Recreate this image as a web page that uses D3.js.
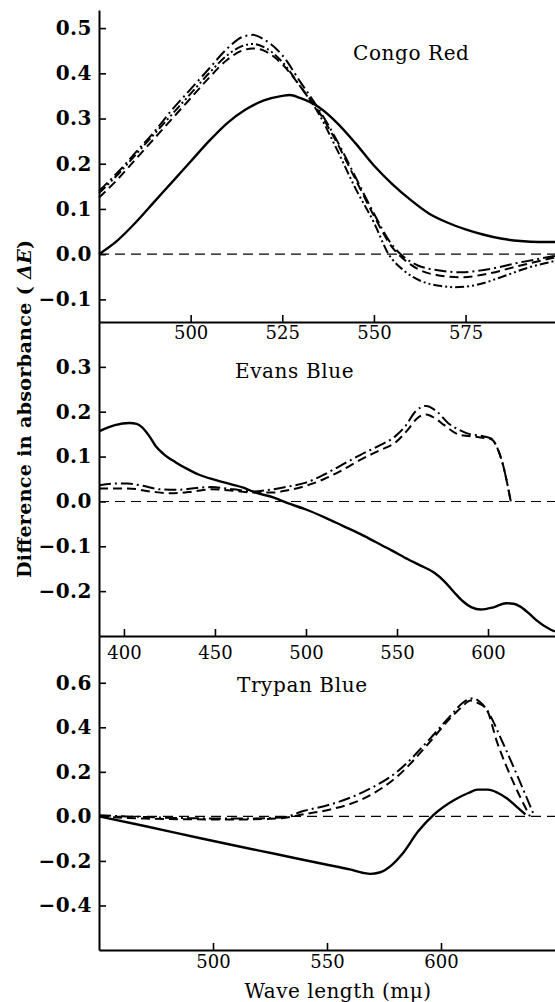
<!DOCTYPE html>
<html>
<head>
<meta charset="utf-8">
<script src="https://cdn.jsdelivr.net/npm/d3@7"></script>
<style>
  body { margin: 0; background: #fff; }
  svg { display: block; }
  .tick line { stroke: #000; stroke-width: 1.6; }
  .domain { stroke: #000; stroke-width: 2; }
</style>
</head>
<body>
<svg id="chart" width="555" height="1002"></svg>
<script>
// Congo Red: [wave length, delta E]
var congoSolid = [[475,0.0],[480,0.03],[485,0.07],[490,0.115],[495,0.16],[500,0.205],[505,0.25],[510,0.29],[515,0.32],[520,0.34],[525,0.35],[527,0.352],[530,0.345],[535,0.325],[540,0.29],[545,0.245],[550,0.196],[555,0.155],[560,0.12],[565,0.09],[570,0.07],[575,0.055],[580,0.043],[585,0.034],[590,0.029],[595,0.027],[599.4,0.027]];
var congoDashDot = [[475,0.14],[480,0.18],[485,0.225],[490,0.27],[495,0.32],[500,0.365],[505,0.41],[510,0.455],[514,0.48],[517,0.485],[520,0.475],[525,0.44],[530,0.38],[535,0.32],[540,0.25],[545,0.17],[550,0.09],[555,0.02],[558,-0.005],[562,-0.025],[567,-0.035],[574,-0.04],[580,-0.035],[590,-0.018],[599.4,-0.004]];
var congoDashDotDot = [[475,0.135],[480,0.175],[485,0.22],[490,0.265],[495,0.31],[500,0.355],[505,0.4],[510,0.44],[514,0.46],[517,0.465],[520,0.458],[525,0.425],[530,0.37],[535,0.31],[540,0.23],[545,0.145],[550,0.07],[554,0.0],[558,-0.035],[563,-0.06],[568,-0.07],[572,-0.073],[578,-0.068],[585,-0.05],[592,-0.03],[599.4,-0.015]];
var congoDashed = [[475,0.125],[480,0.165],[485,0.21],[490,0.255],[495,0.3],[500,0.345],[505,0.39],[510,0.43],[514,0.45],[517,0.455],[520,0.45],[525,0.42],[530,0.37],[535,0.315],[540,0.245],[545,0.165],[550,0.085],[555,0.015],[558,-0.01],[562,-0.033],[567,-0.046],[574,-0.051],[580,-0.045],[590,-0.025],[599.4,-0.007]];

// Evans Blue
var evansSolid = [[386.3,0.156],[395,0.17],[403,0.175],[407,0.173],[410,0.165],[414,0.145],[417.5,0.123],[422,0.105],[428.5,0.087],[435,0.072],[441,0.06],[450,0.048],[459,0.038],[466,0.03],[472,0.02],[482,0.009],[490,-0.004],[500,-0.018],[510.5,-0.036],[520,-0.054],[530,-0.073],[538,-0.09],[547,-0.109],[556,-0.129],[563,-0.143],[570.5,-0.159],[576,-0.178],[581.5,-0.203],[586,-0.222],[591,-0.236],[596,-0.241],[603,-0.236],[610,-0.227],[614,-0.228],[617.5,-0.234],[622,-0.248],[626,-0.263],[634,-0.285],[636.8,-0.29]];
var evansDashDot = [[386.3,0.036],[395,0.04],[402,0.04],[410,0.035],[420,0.027],[430,0.026],[440,0.03],[448,0.032],[460,0.027],[471,0.022],[480,0.026],[490,0.033],[500,0.042],[510,0.06],[520,0.082],[530,0.104],[540,0.124],[549,0.145],[555,0.17],[560,0.2],[566,0.213],[572,0.2],[578,0.175],[584,0.16],[590,0.15],[595,0.147],[602,0.14],[605,0.12],[608,0.085],[612.5,0.0]];
var evansDashed = [[386.3,0.029],[402,0.029],[415,0.022],[426,0.018],[438,0.022],[448,0.027],[460,0.024],[471,0.02],[482,0.02],[490,0.025],[500,0.035],[510,0.05],[520,0.07],[530,0.093],[540,0.113],[549,0.131],[556,0.16],[561,0.185],[566,0.194],[571,0.185],[576,0.17],[584,0.149],[595,0.143],[602,0.138],[605,0.12],[608,0.085],[612.5,0.0]];

// Trypan Blue
var trypanSolid = [[450,0.0],[470,-0.043],[494,-0.097],[510,-0.132],[527,-0.168],[549,-0.215],[560,-0.238],[566,-0.254],[569,-0.258],[573,-0.252],[578,-0.222],[583,-0.169],[590,-0.067],[597,0.009],[606,0.075],[612,0.105],[616,0.12],[620.6,0.12],[625,0.105],[629,0.08],[633,0.045],[637,0.009]];
var trypanDashDot = [[450,0.005],[470,-0.003],[490,-0.008],[510,-0.01],[530,-0.005],[540,0.025],[551,0.052],[566,0.11],[580.7,0.2],[595,0.347],[604,0.45],[609.6,0.51],[614,0.53],[617,0.515],[620,0.48],[627,0.333],[634.6,0.156],[641,0.0]];
var trypanDashed = [[450,0.0],[470,-0.01],[490,-0.013],[510,-0.014],[530,-0.008],[540,0.01],[551,0.03],[566,0.08],[580.7,0.178],[595,0.333],[604,0.44],[609,0.49],[613,0.52],[616,0.51],[620,0.48],[624.6,0.333],[631.6,0.156],[639,0.0]];

var congoXTicks = [500, 525, 550, 575];
var congoYTicks = [-0.1, 0.0, 0.1, 0.2, 0.3, 0.4, 0.5];
var evansXTicks = [400, 450, 500, 550, 600];
var evansYTicks = [-0.2, -0.1, 0.0, 0.1, 0.2, 0.3];
var trypanXTicks = [500, 550, 600];
var trypanYTicks = [-0.4, -0.2, 0.0, 0.2, 0.4, 0.6];

var styles = {
  solid: { dash: null, width: 2.4 },
  dashed: { dash: '9,5', width: 2 },
  dashDot: { dash: '12,4,2,4', width: 2 },
  dashDotDot: { dash: '9,3,2,3,2,3', width: 2 }
};

var panels = [
  { title: 'Congo Red', titleX: 353, titleY: 60, xDomain: [475, 599.4], yDomain: [-0.15, 0.54],
    top: 10, bottom: 322, xTicks: congoXTicks, yTicks: congoYTicks, xPad: 4,
    series: [['solid', congoSolid], ['dashed', congoDashed], ['dashDotDot', congoDashDotDot], ['dashDot', congoDashDot]] },
  { title: 'Evans Blue', titleX: 235, titleY: 378, xDomain: [386.3, 636.8], yDomain: [-0.3, 0.4],
    top: 322, bottom: 636, xTicks: evansXTicks, yTicks: evansYTicks, xPad: 10,
    series: [['solid', evansSolid], ['dashed', evansDashed], ['dashDot', evansDashDot]] },
  { title: 'Trypan Blue', titleX: 237, titleY: 692, xDomain: [450, 650], yDomain: [-0.6, 0.81],
    top: 636, bottom: 950, xTicks: trypanXTicks, yTicks: trypanYTicks, xPad: 5,
    series: [['solid', trypanSolid], ['dashed', trypanDashed], ['dashDot', trypanDashDot]] }
];

var left = 99, right = 555;
var svg = d3.select('#chart');

panels.forEach(function(p) {
  var x = d3.scaleLinear().domain(p.xDomain).range([left, right]);
  var y = d3.scaleLinear().domain(p.yDomain).range([p.bottom, p.top]);

  // zero reference line
  svg.append('line')
    .attr('x1', left).attr('x2', right)
    .attr('y1', y(0)).attr('y2', y(0))
    .attr('stroke', '#000').attr('stroke-width', 1.1)
    .attr('stroke-dasharray', '10,6');

  var line = d3.line()
    .x(function(d) { return x(d[0]); })
    .y(function(d) { return y(d[1]); })
    .curve(d3.curveMonotoneX);

  p.series.forEach(function(s) {
    var st = styles[s[0]];
    svg.append('path')
      .datum(s[1])
      .attr('d', line)
      .attr('fill', 'none')
      .attr('stroke', '#000')
      .attr('stroke-width', st.width)
      .attr('stroke-linejoin', 'round')
      .attr('stroke-dasharray', st.dash);
  });

  // x axis, ticks pointing up into the panel
  var gx = svg.append('g')
    .attr('transform', 'translate(0,' + p.bottom + ')')
    .call(d3.axisBottom(x).tickValues(p.xTicks).tickSizeInner(-7).tickSizeOuter(0).tickPadding(p.xPad).tickFormat(d3.format('d')));
  gx.selectAll('text')
    .attr('font-family', 'DejaVu Serif').attr('font-size', 18).attr('fill', '#000');

  // y axis, ticks pointing right
  var gy = svg.append('g')
    .attr('transform', 'translate(' + left + ',0)')
    .call(d3.axisLeft(y).tickValues(p.yTicks).tickSizeInner(-7).tickSizeOuter(0).tickPadding(7)
      .tickFormat(function(d) { return d3.format('.1f')(d).replace('-', '\u2212'); }));
  gy.selectAll('text')
    .attr('font-family', 'DejaVu Serif').attr('font-weight', 'bold').attr('font-size', 20)
    .attr('letter-spacing', 0.5).attr('fill', '#000');

  svg.append('text')
    .attr('x', p.titleX).attr('y', p.titleY)
    .attr('font-family', 'DejaVu Serif').attr('font-size', 20).attr('letter-spacing', 0.6)
    .text(p.title);
});

// axis titles
svg.append('text')
  .attr('x', 338).attr('y', 998)
  .attr('text-anchor', 'middle')
  .attr('font-family', 'DejaVu Serif').attr('font-size', 20).attr('letter-spacing', 0.5)
  .text('Wave length (m\u03BC)');

var yl = svg.append('text')
  .attr('transform', 'translate(31,409) rotate(-90)')
  .attr('text-anchor', 'middle')
  .attr('font-family', 'DejaVu Serif').attr('font-weight', 'bold').attr('font-size', 19)
  .attr('textLength', 338).attr('lengthAdjust', 'spacing');
yl.append('tspan').text('Difference in absorbance ( ');
yl.append('tspan').attr('font-style', 'italic').text('\u0394E');
yl.append('tspan').text(')');
</script>
</body>
</html>
